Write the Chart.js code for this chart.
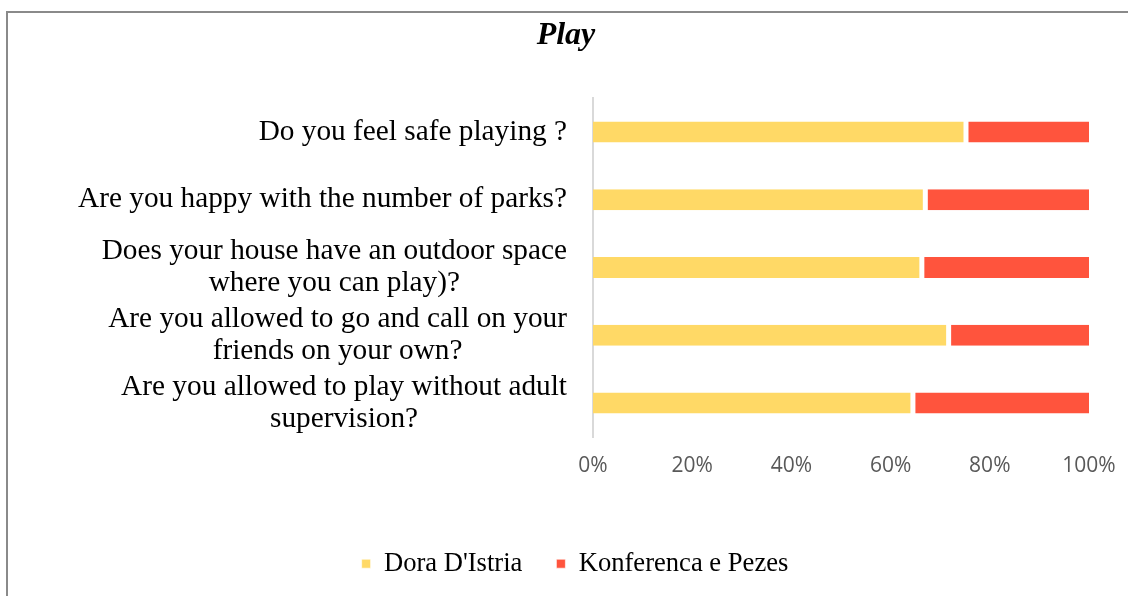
<!DOCTYPE html>
<html>
<head>
<meta charset="utf-8">
<script src="https://cdn.jsdelivr.net/npm/chart.js@4.4.1/dist/chart.umd.min.js"></script>
<style>
  html, body { margin: 0; padding: 0; background: #fff; overflow: hidden; width: 1128px; height: 596px; }
  #wrap { position: absolute; left: 0; top: 0; width: 1140px; height: 640px; }
  #frame { position: absolute; left: 6px; top: 11px; width: 1200px; height: 700px;
           border: 2px solid #8a8a8a; pointer-events: none; }
</style>
</head>
<body>
<div id="wrap"><canvas id="c" width="1140" height="640"></canvas></div>
<div id="frame"></div>
<script>
// Survey questions (multi-line labels are stored as arrays of lines)
const questions = [
  ['Do you feel safe playing ?'],
  ['Are you happy with the number of parks?'],
  ['Does your house have an outdoor space', 'where you can play)?'],
  ['Are you allowed to go and call on your', 'friends on your own?'],
  ['Are you allowed to play without adult', 'supervision?']
];
// Share of answers per school (percent)
const doraDIstria = [75.2, 67.0, 66.3, 71.7, 64.5];
const konferencaPezes = [24.8, 33.0, 33.7, 28.3, 35.5];
const seriesNames = ["Dora D'Istria", 'Konferenca e Pezes'];
const xTicks = [0, 20, 40, 60, 80, 100];

const SERIF = '"Liberation Serif", "Times New Roman", serif';
const LABEL_SIZE = 29.3;
const LINE_GAP = 31.7;

// Category labels: block right-aligned against the axis, lines centred inside the block
const blockLabels = {
  id: 'blockLabels',
  afterLayout(chart) {
    // nudge the legend row to the right of the title's centre line
    chart.legend.left += 9;
    chart.legend.right += 9;
  },
  afterDraw(chart) {
    const { ctx, chartArea } = chart;
    const yScale = chart.scales.y;
    ctx.save();
    ctx.font = LABEL_SIZE + 'px ' + SERIF;
    ctx.fillStyle = '#000000';
    ctx.textBaseline = 'middle';
    ctx.textAlign = 'center';
    const right = chartArea.left - 26;
    chart.data.labels.forEach((lines, i) => {
      const yc = yScale.getPixelForValue(i);
      const w = Math.max(...lines.map(l => ctx.measureText(l).width));
      const cx = right - w / 2;
      lines.forEach((l, j) => {
        ctx.fillText(l, cx, yc + (j - (lines.length - 1) / 2) * LINE_GAP);
      });
    });
    ctx.restore();
  }
};

new Chart(document.getElementById('c'), {
  type: 'bar',
  data: {
    labels: questions,
    datasets: [
      {
        label: seriesNames[0],
        data: doraDIstria,
        backgroundColor: '#FFD966',
        borderColor: '#FFFFFF',
        borderWidth: { left: 0, right: 2.5, top: 0, bottom: 0 },
        borderSkipped: false,
        barPercentage: 0.31,
        categoryPercentage: 1
      },
      {
        label: seriesNames[1],
        data: konferencaPezes,
        backgroundColor: '#FF543D',
        borderColor: '#FFFFFF',
        borderWidth: { left: 2.5, right: 0, top: 0, bottom: 0 },
        borderSkipped: false,
        barPercentage: 0.31,
        categoryPercentage: 1
      }
    ]
  },
  options: {
    indexAxis: 'y',
    responsive: false,
    animation: false,
    devicePixelRatio: 1,
    layout: { padding: { left: 0, right: 8, top: 0, bottom: 53 } },
    scales: {
      x: {
        stacked: true,
        min: 0,
        max: 100,
        afterBuildTicks(scale) { scale.ticks = xTicks.map(v => ({ value: v })); },
        afterFit(scale) { scale.height = 79.4; scale.paddingRight = 51; },
        grid: { display: false, drawTicks: false },
        border: { display: false },
        ticks: {
          padding: 16,
          color: '#595959',
          font: { family: '"Open Sans", sans-serif', size: 21 },
          callback: v => v + '%'
        }
      },
      y: {
        stacked: true,
        afterFit(scale) { scale.width = 593; },
        grid: { display: false, drawTicks: false },
        border: { display: true, color: '#d9d9d9', width: 2 },
        ticks: { display: false }
      }
    },
    plugins: {
      title: {
        display: true,
        text: 'Play',
        color: '#000000',
        font: { family: SERIF, size: 32, style: 'italic', weight: 'bold', lineHeight: 1.2 },
        padding: { top: 17, bottom: 42.6 }
      },
      legend: {
        position: 'bottom',
        labels: {
          color: '#000000',
          boxWidth: 9,
          boxHeight: 9,
          padding: 34,
          font: { family: SERIF, size: 26.6 }
        }
      },
      tooltip: { enabled: false }
    }
  },
  plugins: [blockLabels]
});
</script>
</body>
</html>
